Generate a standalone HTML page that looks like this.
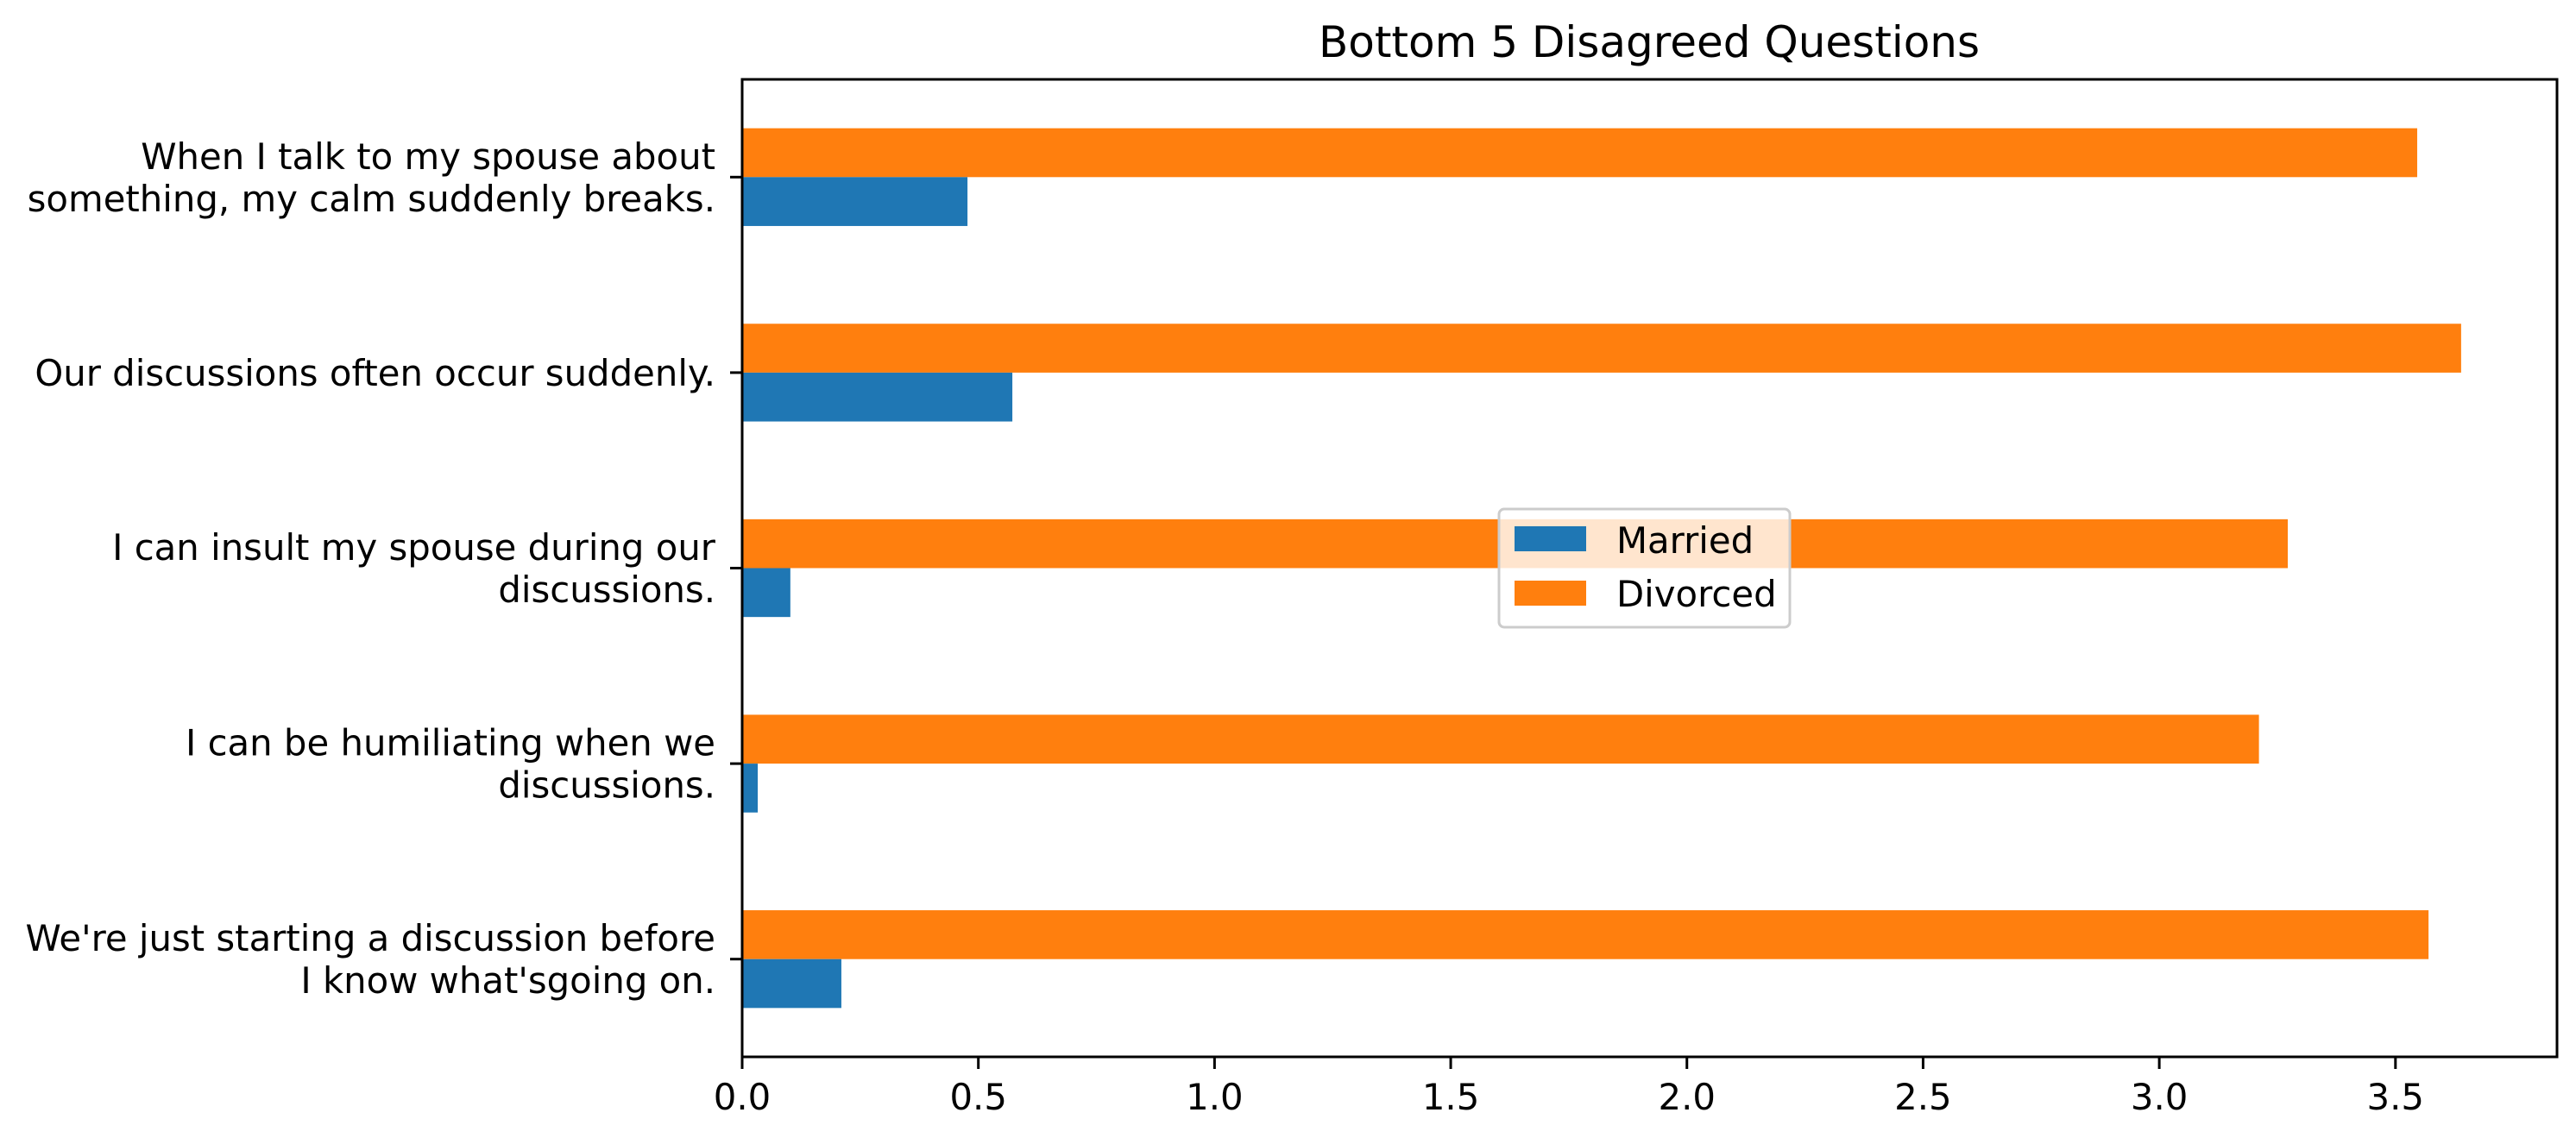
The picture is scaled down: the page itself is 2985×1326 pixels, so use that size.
<!DOCTYPE html>
<html><head><meta charset="utf-8"><style>
html,body{margin:0;padding:0;background:#fff;}
svg{display:block;font-family:"DejaVu Sans","Liberation Sans",sans-serif;}
</style></head><body>
<svg id="chart" width="2985" height="1326" viewBox="0 0 2985 1326">
<rect width="2985" height="1326" fill="#fff"/>
<text x="1911" y="66" font-size="50" text-anchor="middle" fill="#000">Bottom 5 Disagreed Questions</text>
<g id="bars"></g>
<g id="yticks"></g>
<g id="xticks"></g>
<rect x="860" y="92" width="2103" height="1133" fill="none" stroke="#000" stroke-width="3"/>
<g>
<rect x="1737" y="590" width="337" height="137" rx="6" fill="#fff" fill-opacity="0.8" stroke="#ccc" stroke-width="3"/>
<rect x="1755" y="610" width="83" height="29" fill="#1f77b4"/>
<text x="1873" y="641" font-size="41.8" fill="#000">Married</text>
<rect x="1755" y="673" width="83" height="29" fill="#ff7f0e"/>
<text x="1873" y="703" font-size="41.8" fill="#000">Divorced</text>
</g>
</svg>
<script>
const categories = [
  ["When I talk to my spouse about","something, my calm suddenly breaks."],
  ["Our discussions often occur suddenly."],
  ["I can insult my spouse during our","discussions."],
  ["I can be humiliating when we","discussions."],
  ["We're just starting a discussion before","I know what'sgoing on."]
];
const married = [0.477, 0.572, 0.102, 0.033, 0.210];
const divorced = [3.546, 3.639, 3.272, 3.211, 3.570];
const xTicks = [0, 0.5, 1, 1.5, 2, 2.5, 3, 3.5];
const xTickLabels = ["0.0","0.5","1.0","1.5","2.0","2.5","3.0","3.5"];

const NS = "http://www.w3.org/2000/svg";
const X0 = 860, X1 = 2963, XMAX = 3.842;
const Y0 = 92, Y1 = 1225;
const n = categories.length;
const band = (Y1 - Y0) / n;
const barH = band * 0.25;
const xs = v => X0 + v / XMAX * (X1 - X0);
const yc = i => Y0 + band * (i + 0.5);

function mk(tag, attrs, parent) {
  const el = document.createElementNS(NS, tag);
  for (const k in attrs) el.setAttribute(k, attrs[k]);
  parent.appendChild(el);
  return el;
}
const bars = document.getElementById('bars');
const yt = document.getElementById('yticks');
const xt = document.getElementById('xticks');

for (let i = 0; i < n; i++) {
  const c = yc(i);
  const d = mk('rect', {x: xs(0), y: c - barH, width: xs(divorced[i]) - xs(0), height: barH, fill: '#ff7f0e'}, bars);
  
  
  const m = mk('rect', {x: xs(0), y: c, width: xs(married[i]) - xs(0), height: barH, fill: '#1f77b4'}, bars);
  
  
  const t = mk('line', {x1: X0 - 14, x2: X0, y1: c, y2: c, stroke: '#000', 'stroke-width': 3}, yt);
  
  
  const lines = categories[i];
  const lh = 49;
  const startY = c - (lines.length - 1) * lh / 2 + 15;
  const tx = mk('text', {x: 829, y: startY, 'font-size': 41.8, 'text-anchor': 'end', fill: '#000'}, yt);
  
  
  lines.forEach((s, j) => {
    const sp = mk('tspan', {x: 829, y: startY + j * lh}, tx);
    sp.textContent = s;
  });
}
xTicks.forEach((v, i) => {
  const x = xs(v);
  const t = mk('line', {x1: x, x2: x, y1: Y1, y2: Y1 + 14, stroke: '#000', 'stroke-width': 3}, xt);
  
  
  const l = mk('text', {x: x, y: 1286, 'font-size': 41.8, 'text-anchor': 'middle', fill: '#000'}, xt);
  
  
  l.textContent = xTickLabels[i];
});
</script>
</body></html>
